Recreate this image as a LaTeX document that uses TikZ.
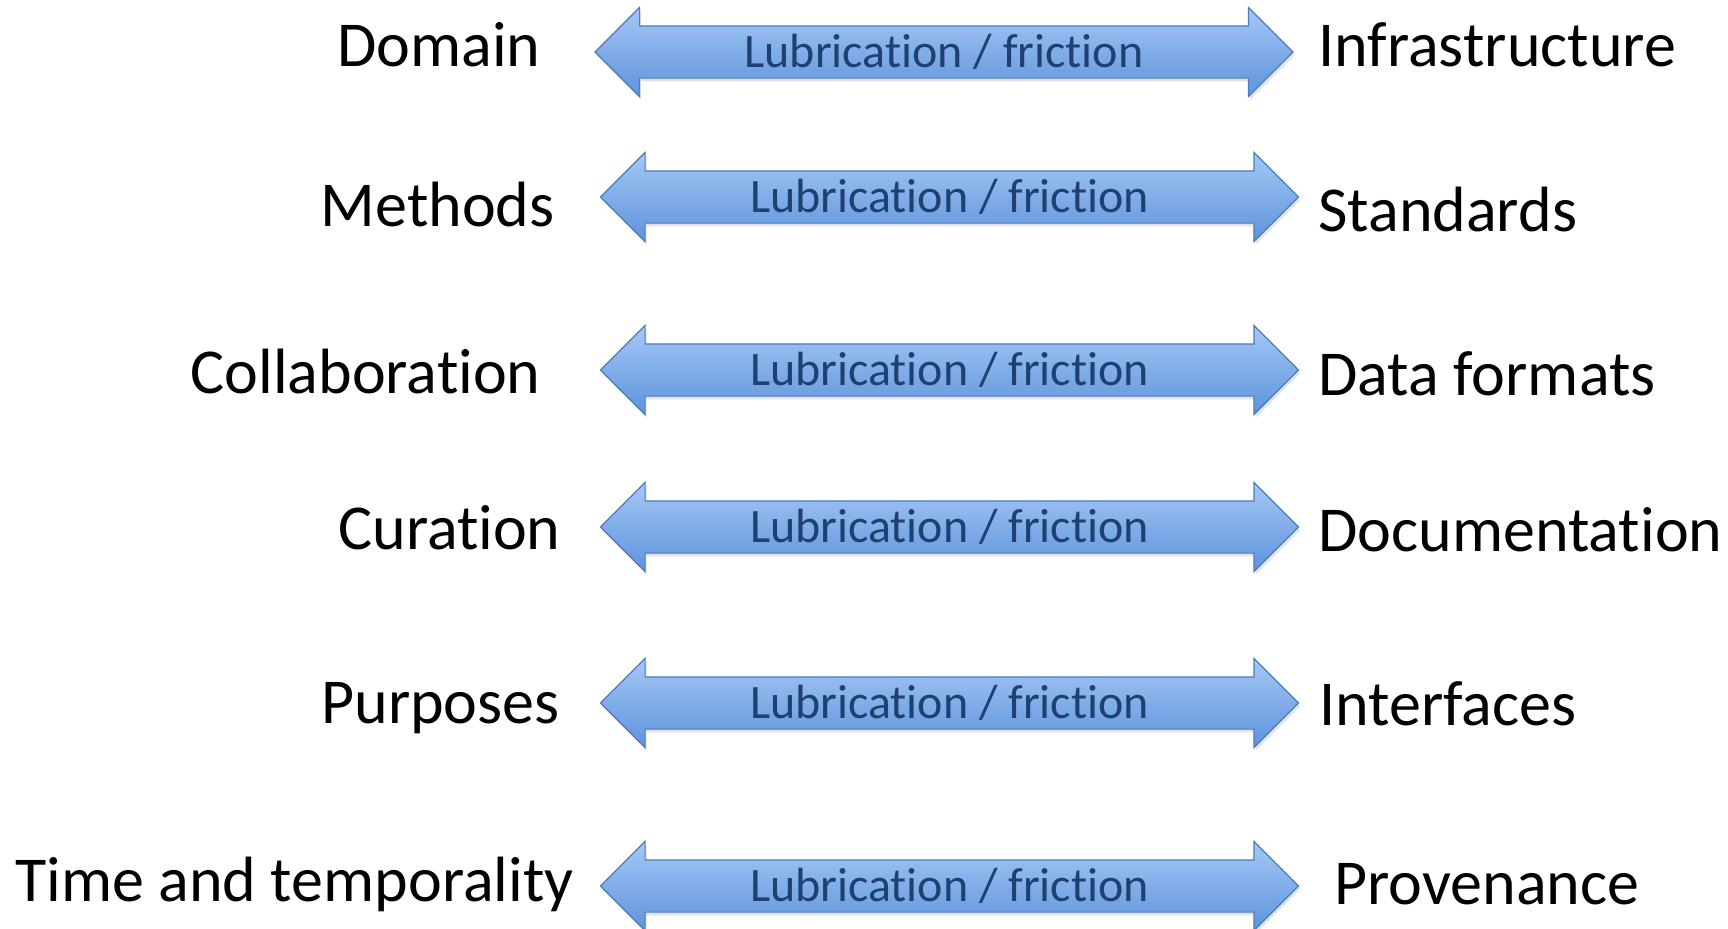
\documentclass[tikz,border=0pt]{standalone}
\usepackage{fontspec}
\setmainfont[Ligatures=NoCommon]{Carlito}
\usetikzlibrary{shapes.arrows,shadows}
\definecolor{arrowtop}{HTML}{A4C8F6}
\definecolor{arrowbot}{HTML}{5E93DB}
\definecolor{arrowline}{HTML}{4A7EBB}
\definecolor{lubtext}{HTML}{1F4172}
\tikzset{
  lubarrow/.style={double arrow, double arrow tip angle=90,
    double arrow head extend=9.25pt, minimum height=349pt,
    inner xsep=0pt, inner ysep=12.75pt, draw=arrowline, line width=0.6pt,
    top color=arrowtop, bottom color=arrowbot,
    drop shadow={opacity=0.22, shadow xshift=0.8pt, shadow yshift=-1.6pt}},
  lubtextstyle/.style={anchor=base, inner sep=0pt, text=lubtext, font=\fontsize{24}{28}\selectfont},
  leftlabel/.style={anchor=base east, inner sep=0pt, font=\fontsize{32}{38}\selectfont},
  rightlabel/.style={anchor=base west, inner sep=0pt, font=\fontsize{32}{38}\selectfont}
}
\begin{document}
\begin{tikzpicture}[x=0.5pt,y=-0.5pt]
  \useasboundingbox (0,0) rectangle (1728,928);

  % double arrows
  \node[lubarrow] (a1) at (944,52) {};
  \node[lubarrow] (a2) at (949.5,197) {};
  \node[lubarrow] (a3) at (949.5,370) {};
  \node[lubarrow] (a4) at (949.5,527) {};
  \node[lubarrow] (a5) at (949.5,703) {};
  \node[lubarrow] (a6) at (949.5,886) {};

  % arrow captions
  \foreach \i in {1,...,6}
    \node[lubtextstyle] (t\i) at ([yshift=-7.5pt]a\i.center) {Lubrication / friction};

  % left-hand labels
  \node[leftlabel] (l1) at (541,66) {Domain};
  \node[leftlabel] (l2) at (555,226) {Methods};
  \node[leftlabel] (l3) at (541,393) {Collaboration};
  \node[leftlabel] (l4) at (561,549) {Curation};
  \node[leftlabel] (l5) at (560,723) {Purposes};
  \node[leftlabel] (l6) at (574,901) {Time and temporality};

  % right-hand labels
  \node[rightlabel] (r1) at (1318,66) {Infrastructure};
  \node[rightlabel] (r2) at (1318,231) {Standards};
  \node[rightlabel] (r3) at (1318,395) {Data formats};
  \node[rightlabel] (r4) at (1318,551) {Documentation};
  \node[rightlabel] (r5) at (1319,725) {Interfaces};
  \node[rightlabel] (r6) at (1334,904) {Provenance};
\end{tikzpicture}
\end{document}
